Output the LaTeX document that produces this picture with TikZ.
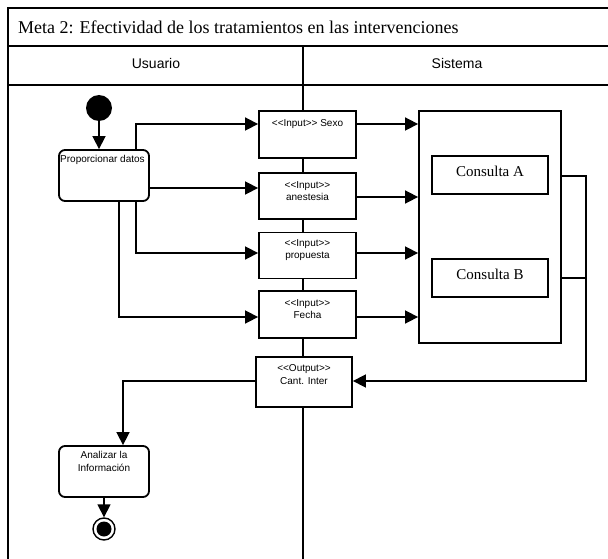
\documentclass[tikz,border=0pt]{standalone}
\usepackage{fontspec}
\setmainfont{Liberation Serif}
\newfontfamily\arialf{Liberation Sans}
\usetikzlibrary{arrows.meta}
\begin{document}
\begin{tikzpicture}[x=1pt,y=-1pt,
  frameline/.style={line width=2.4pt},
  laneline/.style={line width=1.5pt},
  boxn/.style={draw,line width=1.8pt,fill=white,rectangle,inner sep=0pt},
  rboxn/.style={boxn,rounded corners=6pt},
  smalltxt/.style={font=\arialf\fontsize{10}{12.5}\selectfont,align=center,inner sep=0pt},
  arr/.style={line width=1.6pt,-{Triangle[length=13pt,width=13pt]}},
  conn/.style={line width=1.6pt}]
\useasboundingbox (0,0) rectangle (608,559);
% frame
\draw[frameline] (8,559) -- (8,8) -- (608,8);
\draw[frameline] (8,46) -- (608,46);
\draw[frameline] (8,85) -- (608,85);
\draw[laneline] (303,46) -- (303,559);
\node[font=\fontsize{18}{20}\selectfont,anchor=west,inner sep=0pt] (title) at (18,27) {Meta 2: Efectividad de los tratamientos en las intervenciones};
\node[font=\arialf\fontsize{14}{16}\selectfont,inner sep=0pt] (usu) at (156,63) {Usuario};
\node[font=\arialf\fontsize{14}{16}\selectfont,inner sep=0pt] (sis) at (457,63) {Sistema};
% start
\node[circle,fill=black,minimum size=26pt,inner sep=0pt] (start) at (99,108) {};
% Proporcionar datos
\node[rboxn,minimum width=90pt,minimum height=51pt] (prop) at (104,175.5) {};
\node[smalltxt,anchor=west] (propt) at (60,160) {Proporcionar datos};
% inputs
\node[boxn,minimum width=97pt,minimum height=47pt] (isexo) at (307.5,134.5) {};
\node[smalltxt] (isexot) at (307.5,124) {<<Input>> Sexo};
\node[boxn,minimum width=97pt,minimum height=46pt] (ianes) at (307.5,196) {};
\node[smalltxt] (ianest) at (307.5,191) {<<Input>>\\anestesia};
\node[boxn,minimum width=97pt,minimum height=46pt] (iprop) at (307.5,255.5) {};
\node[smalltxt] (iropt) at (307.5,250) {<<Input>>\\propuesta};
\node[boxn,minimum width=97pt,minimum height=47pt] (ifec) at (307.5,314.5) {};
\node[smalltxt] (ifect) at (307.5,309) {<<Input>>\\Fecha};
\node[boxn,minimum width=96pt,minimum height=50pt] (out) at (304,382) {};
\node[smalltxt] (outt) at (304,374.5) {<<Output>>\\Cant. Inter};
% system
\node[boxn,minimum width=142pt,minimum height=232pt] (sysb) at (490,227) {};
\node[boxn,minimum width=116pt,minimum height=38pt] (ca) at (490,175) {};
\node[font=\fontsize{15}{17}\selectfont,inner sep=0pt] (cat) at (490,171) {Consulta A};
\node[boxn,minimum width=116pt,minimum height=38pt] (cb) at (490,278) {};
\node[font=\fontsize{15}{17}\selectfont,inner sep=0pt] (cbt) at (490,274) {Consulta B};
% Analizar
\node[rboxn,minimum width=90pt,minimum height=51pt] (anal) at (104,471.5) {};
\node[smalltxt] (analt) at (104,461.5) {Analizar la\\Información};
% end
\node[circle,draw,line width=1.4pt,minimum size=22pt,inner sep=0pt] (fin) at (104,529) {};
\node[circle,fill=black,minimum size=15pt,inner sep=0pt] (finin) at (104,529) {};
% connectors
\draw[arr] (start.south) -- (prop.north -| start.south);
\draw[arr] (prop.north -| 136,0) |- (isexo.west |- 0,124);
\draw[arr] (prop.east |- 0,188) -- (ianes.west |- 0,188);
\draw[arr] (prop.south -| 136,0) |- (iprop.west |- 0,253);
\draw[arr] (prop.south -| 119,0) |- (ifec.west |- 0,317);
\draw[arr] (isexo.east |- 0,124) -- (sysb.west |- 0,124);
\draw[arr] (ianes.east |- 0,197) -- (sysb.west |- 0,197);
\draw[arr] (iprop.east |- 0,253) -- (sysb.west |- 0,253);
\draw[arr] (ifec.east |- 0,317) -- (sysb.west |- 0,317);
\coordinate (rj) at (586,176);
\draw[conn] (sysb.east |- 0,278) -- (586,278);
\draw[arr] (sysb.east |- rj) -- (rj) |- (out.east |- 0,381);
\draw[arr] (out.west |- 0,381) -| (anal.north -| 123,0);
\draw[arr] (anal.south) -- (fin.north);
\end{tikzpicture}
\end{document}
